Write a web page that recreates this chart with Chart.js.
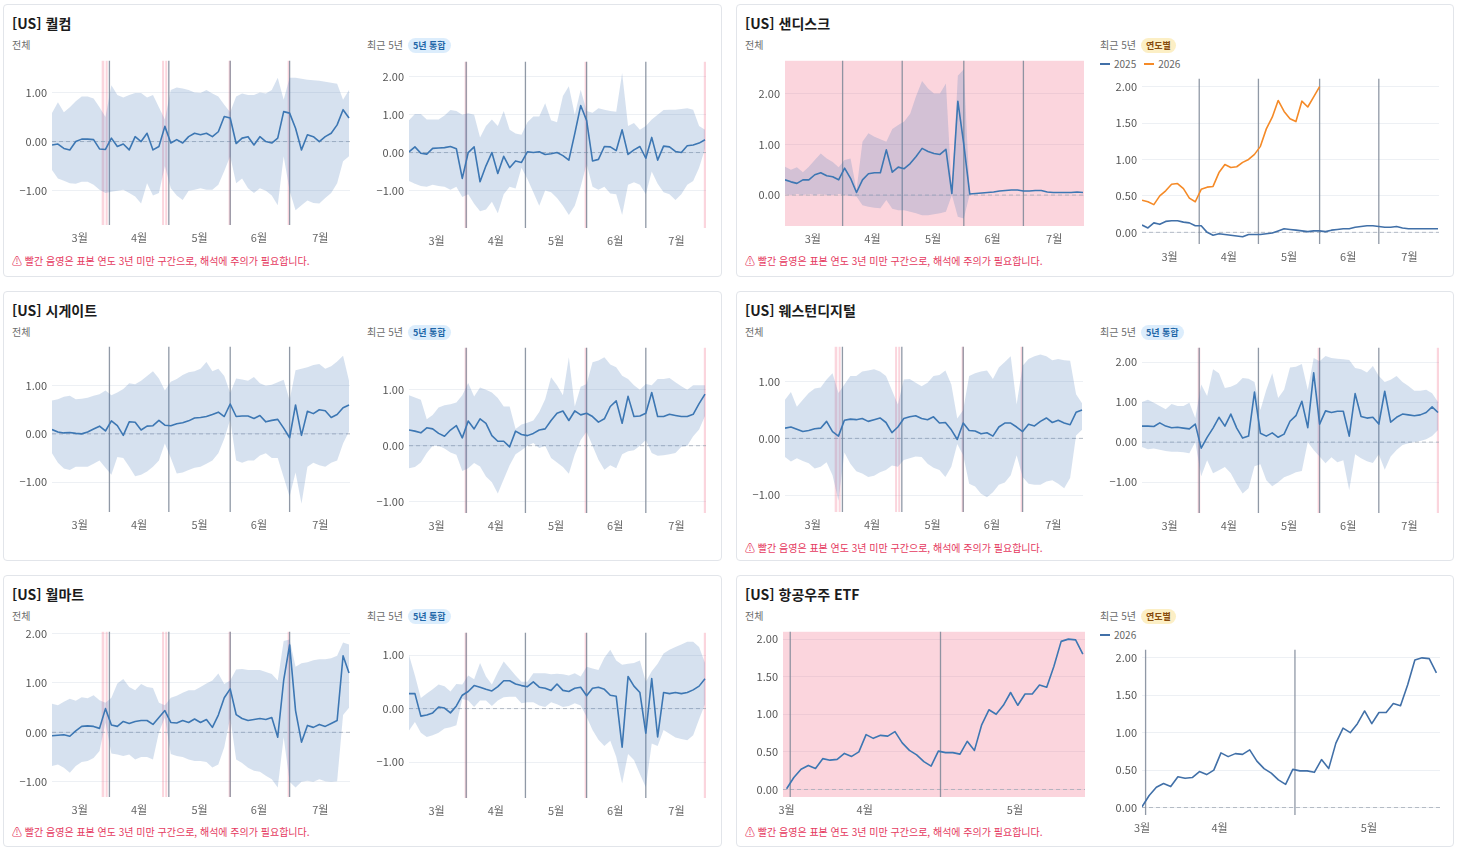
<!DOCTYPE html>
<html lang="ko">
<head>
<meta charset="utf-8">
<title>US 종목 시즌성</title>
<script src="https://cdn.jsdelivr.net/npm/chart.js@4.4.1/dist/chart.umd.min.js"></script>
<style>
  html, body { margin: 0; padding: 0; background: #fff; }
  body { width: 1461px; height: 850px; position: relative; overflow: hidden;
         font-family: 'Noto Sans CJK KR', 'Noto Sans', sans-serif; }
  .card { position: absolute; box-sizing: border-box; border: 1px solid #e2e5ea; border-radius: 4px; background: #fff; }
  .title { position: absolute; left: 8px; top: 9px; font-size: 14px; line-height: 18px; font-weight: 700; color: #1b1b1b; white-space: nowrap; }
  .sub { position: absolute; top: 33px; font-size: 10px; line-height: 14px; color: #6b6b6b; white-space: nowrap; }
  .badge { display: inline-block; margin-left: 5px; padding: 0 5px; font-size: 9px; line-height: 15px; border-radius: 8px; font-weight: 600; }
  .badge.merge { background: #dcedfc; color: #1f67a8; }
  .badge.year { background: #fcefc5; color: #874b0c; }
  .legend { position: absolute; top: 52px; font-size: 10px; line-height: 14px; color: #666; white-space: nowrap; }
  .legend i { display: inline-block; width: 10px; height: 2px; margin-right: 4px; vertical-align: middle; position: relative; top: -1px; }
  .legend span { margin-right: 8px; }
  .warn { position: absolute; left: 8px; top: 249px; font-size: 10px; line-height: 14px; color: #e53960; white-space: nowrap; }
  canvas { position: absolute; }
</style>
</head>
<body>
<script>
// ---- x axis (days from Mar 1) ----
const DAYS = [2,5,8,11,14,17,20,23,26,29,32,35,38,41,44,47,50,53,56,59,62,65,68,71,74,77,80,83,86,89,92,95,98,101,104,107,110,113,116,119,122,125,128,131,134,137,140,143,146,149,152];
const MONTH_RANGE = [2, 152.5];
const MONTH_TICKS = [16, 46, 76.5, 106.5, 137.5];
const MONTH_LABELS = ['3월', '4월', '5월', '6월', '7월'];
const MONTH_LINES = [31, 61, 92, 122];
const WARN_ALL = [[27.1, 28.4], [29.1, 30.1], [57.6, 58.6], [59.2, 60.2], [91.2, 92.4], [121, 121.9]];
const WARN_5Y = [[30.2, 31.5], [91, 92.2], [151.4, 152.5]];
const WARN_FULL = [[2, 152.5]];

// ETF: point index axis
const ETF_TICKS = [0, 10.8, 31.6];
const ETF_LABELS = ['3월', '4월', '5월'];
const ETF_LINES = [0.5, 21.3];

// ---- 퀄컴 ----
const qcomAll = [-0.07,-0.05,-0.14,-0.17,0.0,0.05,0.05,0.04,-0.15,-0.16,0.07,-0.1,-0.05,-0.17,0.1,0.0,0.17,-0.17,-0.1,0.31,-0.03,0.04,-0.03,0.1,0.17,0.14,0.17,0.1,0.2,0.51,0.48,-0.04,0.07,0.1,-0.07,0.1,0.0,-0.03,0.07,0.61,0.58,0.27,-0.17,0.14,0.1,0.0,0.1,0.17,0.34,0.65,0.48];
const qcomAllHi = [0.58,0.8,0.6,0.7,0.82,0.92,0.92,0.88,0.7,0.5,1.15,0.95,0.9,0.95,0.99,0.99,0.9,0.95,0.7,0.45,1.05,1.1,1.08,1.05,1.0,0.99,1.05,0.98,0.92,0.75,0.6,0.92,0.98,0.95,0.95,1.0,0.98,1.05,1.3,0.85,1.3,1.3,1.28,1.26,1.25,1.24,1.22,1.2,1.18,0.85,1.05];
const qcomAllLo = [-0.58,-0.75,-0.8,-0.85,-0.86,-0.82,-0.82,-0.88,-0.98,-1.05,-1.02,-1.0,-0.98,-1.05,-1.12,-1.26,-0.85,-1.1,-1.05,-0.5,-0.95,-1.1,-1.19,-1.0,-0.98,-0.95,-0.98,-0.98,-0.88,-0.6,-0.3,-0.85,-0.75,-0.95,-1.05,-0.95,-1.0,-1.1,-1.3,-0.3,-1.0,-1.4,-1.3,-1.2,-1.25,-1.26,-1.15,-1.05,-0.85,-0.4,-0.3];
const qcom5y = [0.02,0.15,-0.02,-0.04,0.11,0.12,0.13,0.16,0.1,-0.68,0.0,0.15,-0.77,-0.35,0.0,-0.55,-0.1,-0.4,-0.22,-0.26,0.02,0.0,0.02,-0.05,-0.03,0.0,-0.08,-0.2,0.5,1.24,0.85,-0.22,-0.18,0.16,0.15,0.05,0.6,-0.05,0.07,0.16,-0.15,0.4,-0.2,0.17,0.15,0.03,0.0,0.18,0.2,0.25,0.34];
const qcom5yHi = [0.85,1.02,1.02,0.87,0.87,0.87,0.98,1.12,1.1,1.0,1.04,1.0,0.4,0.7,0.87,0.7,1.1,0.6,0.5,0.47,0.8,0.95,0.95,1.3,0.85,0.8,1.49,1.75,1.0,1.66,1.1,1.05,1.17,1.13,1.1,1.08,2.1,0.7,0.78,0.6,0.7,0.87,1.0,1.12,1.13,1.13,1.15,1.17,1.13,0.7,0.6];
const qcom5yLo = [-0.75,-0.82,-0.88,-0.9,-0.85,-0.88,-0.9,-0.98,-0.9,-1.17,-1.1,-1.35,-1.55,-1.5,-1.3,-1.6,-1.1,-0.9,-0.95,-0.4,-0.7,-1.05,-1.4,-1.0,-1.05,-1.2,-1.4,-1.65,-1.4,-0.9,-0.3,-0.9,-0.98,-0.9,-1.08,-1.1,-1.65,-0.85,-0.78,-0.85,-1.1,-0.5,-0.82,-1.05,-1.1,-1.25,-1.1,-0.85,-0.75,-0.4,0.1];

// ---- 샌디스크 ----
const sndkAll = [0.3,0.26,0.23,0.3,0.3,0.4,0.44,0.38,0.36,0.3,0.53,0.33,0.05,0.3,0.42,0.44,0.44,0.89,0.45,0.55,0.52,0.62,0.76,0.92,0.86,0.82,0.8,0.9,0.03,1.85,1.0,0.02,0.03,0.04,0.05,0.06,0.08,0.09,0.1,0.1,0.08,0.08,0.09,0.09,0.06,0.05,0.05,0.05,0.05,0.06,0.05];
const sndkAllHi = [0.56,0.5,0.55,0.45,0.56,0.69,0.82,0.72,0.65,0.55,0.69,0.72,0.1,1.05,1.22,1.15,1.1,1.05,1.3,1.38,1.45,1.6,1.95,2.25,2.1,2.0,2.0,2.2,0.05,2.35,2.48,0.02];
const sndkAllLo = [0.02,0.0,0.02,0.0,0.02,0.0,0.02,0.0,0.0,0.02,0.0,-0.02,-0.03,-0.2,-0.23,-0.25,-0.26,-0.1,-0.27,-0.3,-0.3,-0.33,-0.36,-0.4,-0.4,-0.38,-0.36,-0.33,0.0,-0.43,-0.46,0.02];
const sndk2025 = [0.1,0.06,0.13,0.11,0.15,0.16,0.16,0.14,0.13,0.09,0.09,0.0,-0.04,-0.02,-0.03,-0.04,-0.05,-0.06,-0.03,-0.03,-0.03,-0.02,-0.01,0.02,0.05,0.04,0.03,0.02,0.01,0.02,0.02,0.01,0.03,0.04,0.05,0.05,0.07,0.08,0.09,0.09,0.08,0.07,0.07,0.08,0.06,0.05,0.05,0.05,0.05,0.05,0.05];
const sndk2026 = [0.44,0.42,0.38,0.5,0.57,0.66,0.67,0.6,0.47,0.42,0.59,0.62,0.63,0.82,0.93,0.89,0.9,0.96,1.0,1.07,1.18,1.42,1.58,1.81,1.66,1.56,1.52,1.8,1.72,1.86,2.0];

// ---- 시게이트 ----
const stxAll = [0.09,0.04,0.02,0.03,0.01,0.0,0.04,0.1,0.16,0.06,0.27,0.17,-0.03,0.25,0.24,0.08,0.16,0.17,0.28,0.18,0.17,0.21,0.23,0.27,0.33,0.34,0.36,0.4,0.45,0.36,0.62,0.36,0.37,0.37,0.32,0.38,0.25,0.28,0.3,0.12,-0.08,0.6,-0.03,0.47,0.42,0.5,0.48,0.34,0.4,0.54,0.6];
const stxAllHi = [0.69,0.72,0.77,0.79,0.72,0.73,0.75,0.79,0.82,0.9,0.8,0.86,0.93,1.05,1.03,1.1,1.2,1.3,1.15,0.9,1.08,1.14,1.22,1.28,1.3,1.35,1.49,1.3,1.35,1.2,0.85,1.15,1.13,1.1,1.18,1.05,1.0,1.02,1.07,1.12,0.7,1.32,1.35,1.38,1.43,1.45,1.35,1.4,1.5,1.62,1.1];
const stxAllLo = [-0.4,-0.6,-0.72,-0.75,-0.68,-0.68,-0.68,-0.62,-0.55,-0.7,-0.85,-0.48,-0.5,-0.68,-0.88,-0.85,-0.78,-0.68,-0.55,-0.2,-0.5,-0.82,-0.8,-0.75,-0.7,-0.68,-0.62,-0.55,-0.4,-0.1,0.3,-0.55,-0.6,-0.55,-0.55,-0.45,-0.4,-0.5,-0.5,-0.9,-1.3,-0.8,-1.45,-0.68,-0.6,-0.65,-0.68,-0.6,-0.55,-0.2,0.05];
const stx5y = [0.28,0.26,0.23,0.32,0.3,0.22,0.17,0.28,0.36,0.14,0.44,0.3,0.48,0.4,0.18,0.08,0.08,-0.02,0.26,0.2,0.18,0.22,0.28,0.3,0.45,0.58,0.62,0.45,0.62,0.55,0.58,0.52,0.42,0.48,0.7,0.8,0.4,0.88,0.52,0.53,0.58,0.95,0.52,0.52,0.56,0.54,0.52,0.52,0.56,0.75,0.92];
const stx5yHi = [0.9,0.86,0.82,0.47,0.55,0.68,0.72,0.74,0.77,0.9,1.12,0.88,1.04,1.0,0.95,0.85,0.7,0.7,0.3,0.38,0.41,0.45,0.6,0.83,1.22,1.08,0.9,1.58,0.7,1.05,1.1,1.49,1.52,1.58,1.45,1.4,1.25,1.19,1.08,1.0,1.1,1.08,1.19,1.19,1.21,1.13,1.06,1.0,1.08,1.08,1.08];
const stx5yLo = [-0.4,-0.38,-0.3,-0.13,0.0,0.0,-0.05,-0.12,-0.16,-0.45,-0.4,-0.31,-0.37,-0.55,-0.65,-0.85,-0.6,-0.35,-0.15,-0.08,0.0,0.05,-0.04,0.0,-0.22,-0.3,-0.38,-0.5,-0.15,0.1,0.25,0.0,-0.25,-0.43,-0.35,-0.4,-0.15,-0.1,-0.08,0.0,0.1,-0.13,-0.18,-0.17,-0.15,-0.13,-0.02,0.0,0.17,0.29,0.53];

// ---- 웨스턴디지털 ----
const wdcAll = [0.18,0.2,0.16,0.12,0.14,0.17,0.18,0.3,0.12,0.04,0.32,0.34,0.33,0.35,0.3,0.33,0.36,0.28,0.1,0.2,0.35,0.38,0.4,0.35,0.33,0.38,0.27,0.28,0.15,-0.02,0.27,0.14,0.13,0.08,0.1,0.04,0.2,0.27,0.27,0.2,0.12,0.25,0.22,0.3,0.36,0.28,0.32,0.27,0.24,0.46,0.5];
const wdcAllHi = [0.68,0.82,0.56,0.68,0.8,0.88,0.9,1.04,1.15,0.8,0.95,1.1,1.1,1.18,1.2,1.22,1.18,1.1,0.85,0.6,1.04,1.05,0.98,0.92,0.98,1.1,1.12,1.2,0.95,0.35,0.5,1.1,1.15,1.18,1.2,1.05,1.25,1.35,1.45,0.6,1.28,1.4,1.45,1.48,1.45,1.38,1.4,1.38,1.37,0.78,0.62];
const wdcAllLo = [-0.33,-0.41,-0.35,-0.4,-0.44,-0.53,-0.5,-0.42,-0.65,-1.1,-0.25,-0.45,-0.58,-0.62,-0.68,-0.66,-0.6,-0.56,-0.48,-0.5,-0.38,-0.35,-0.32,-0.33,-0.45,-0.52,-0.56,-0.68,-0.5,-0.1,-0.3,-0.8,-0.85,-0.98,-1.04,-0.95,-0.82,-0.78,-0.65,-0.3,-0.68,-0.8,-0.82,-0.82,-0.76,-0.74,-0.8,-0.88,-0.7,0.05,0.15];
const wdc5y = [0.4,0.4,0.39,0.48,0.4,0.36,0.37,0.35,0.33,0.45,-0.15,0.12,0.35,0.62,0.4,0.7,0.35,0.1,0.15,1.25,0.22,0.15,0.23,0.12,0.2,0.52,0.66,1.02,0.36,1.73,0.45,0.78,0.74,0.77,0.77,0.15,1.21,0.64,0.6,0.62,0.45,1.27,0.5,0.62,0.7,0.68,0.66,0.68,0.74,0.88,0.74];
const wdc5yHi = [1.0,1.06,0.98,0.9,0.82,0.95,0.9,0.9,0.98,0.6,1.44,1.15,1.82,1.72,1.35,1.38,1.45,1.6,1.58,1.5,0.8,1.31,1.72,1.1,1.31,1.86,1.88,1.95,1.3,2.1,2.02,2.15,2.1,2.08,2.07,2.05,1.85,1.82,1.74,1.9,1.65,1.5,1.56,1.65,1.5,1.4,1.28,1.28,1.31,1.22,1.0];
const wdc5yLo = [-0.12,-0.18,-0.16,-0.19,-0.22,-0.24,-0.24,-0.25,-0.28,0.0,-0.85,-0.45,-0.78,-0.7,-0.62,-0.78,-1.05,-1.28,-1.15,-0.6,-0.55,-0.95,-1.1,-1.0,-0.88,-0.82,-0.75,-0.72,0.0,-0.2,-0.36,-0.53,-0.38,-0.5,-0.45,-1.2,-0.3,-0.4,-0.48,-0.52,-0.3,-0.69,-0.36,-0.2,-0.07,-0.03,0.0,0.03,0.07,0.15,0.3];

// ---- 월마트 ----
const wmtAll = [-0.07,-0.06,-0.05,-0.08,0.03,0.12,0.13,0.12,0.08,0.48,0.15,0.12,0.22,0.18,0.22,0.24,0.24,0.16,0.3,0.44,0.2,0.19,0.24,0.2,0.27,0.2,0.26,0.1,0.35,0.7,0.88,0.36,0.28,0.24,0.26,0.28,0.26,0.3,-0.1,1.05,1.77,0.44,-0.2,0.14,0.1,0.16,0.12,0.18,0.24,1.55,1.2];
const wmtAllHi = [0.58,0.55,0.62,0.68,0.64,0.71,0.69,0.75,0.65,0.6,0.7,0.99,1.08,0.92,0.85,0.98,0.92,0.9,0.6,0.55,0.7,0.74,0.8,0.85,0.85,0.92,0.99,1.05,1.19,0.98,1.05,1.27,1.28,1.26,1.26,1.26,1.22,1.18,1.05,1.85,1.88,1.33,1.4,1.42,1.46,1.48,1.48,1.5,1.55,1.82,1.78];
const wmtAllLo = [-0.68,-0.65,-0.72,-0.82,-0.68,-0.6,-0.58,-0.52,-0.38,0.2,-0.43,-0.45,-0.48,-0.45,-0.55,-0.5,-0.5,-0.55,0.0,0.3,-0.44,-0.48,-0.5,-0.55,-0.58,-0.58,-0.6,-0.71,-0.65,-0.3,0.3,-0.55,-0.62,-0.72,-0.78,-0.8,-0.88,-0.95,-1.12,-0.1,-1.0,-1.12,-1.0,-0.98,-1.0,-0.95,-0.99,-1.0,-0.99,0.35,0.5];
const wmt5y = [0.28,0.28,-0.14,-0.12,-0.08,0.03,0.01,-0.08,0.05,0.25,0.32,0.43,0.4,0.36,0.33,0.41,0.52,0.52,0.46,0.43,0.41,0.5,0.4,0.38,0.34,0.46,0.34,0.32,0.38,0.4,0.24,0.38,0.4,0.36,0.25,0.23,-0.72,0.6,0.42,0.3,-0.46,0.56,-0.53,0.3,0.28,0.3,0.28,0.3,0.35,0.42,0.56];
const wmt5yHi = [1.0,0.62,0.2,0.28,0.36,0.45,0.42,0.32,0.46,0.45,0.62,0.55,0.85,0.6,0.45,0.68,0.88,0.75,0.62,0.5,0.5,0.66,0.66,0.66,0.64,0.65,0.64,0.62,0.66,0.6,0.78,0.75,0.72,0.95,1.1,0.9,0.82,0.84,0.85,0.9,0.5,0.7,0.84,1.03,1.1,1.15,1.2,1.25,1.25,1.15,0.85];
const wmt5yLo = [-0.41,-0.25,-0.45,-0.53,-0.5,-0.45,-0.37,-0.35,-0.31,0.18,0.15,0.03,0.15,0.15,0.05,0.15,0.21,0.22,0.22,0.1,0.12,0.12,0.06,0.03,0.12,0.08,0.03,0.05,0.1,0.06,-0.15,-0.4,-0.58,-0.7,-0.6,-0.9,-1.4,-0.85,-0.96,-1.22,-1.47,-0.65,-0.7,-0.4,-0.47,-0.54,-0.57,-0.59,-0.5,-0.2,0.08];

// ---- 항공우주 ETF (2026 only) ----
const etf2026 = [0.01,0.16,0.27,0.32,0.28,0.41,0.39,0.40,0.48,0.44,0.5,0.73,0.68,0.72,0.71,0.77,0.62,0.52,0.46,0.37,0.31,0.51,0.49,0.49,0.47,0.64,0.52,0.86,1.06,1.0,1.12,1.29,1.12,1.27,1.27,1.39,1.36,1.64,1.97,2.0,1.99,1.8];

// ---- style ----
const BLUE = '#3d77b3';
const BLUE_Y = '#4170a8';
const ORANGE = '#f58a27';
const BAND = 'rgba(70,120,180,0.22)';
const PINK = 'rgba(240,100,130,0.27)';
const VLINE = 'rgba(125,135,150,0.85)';
const ZERO = 'rgba(160,168,180,0.75)';
const GRID = '#edf0f4';
// PAD_T: space Chart.js keeps above the plot (half a tick label + tick padding)
const AX_W = 48, AX_H = 26, PAD_T = 12, PAD_R = 6;
const WARN_TEXT = '⚠ 빨간 음영은 표본 연도 3년 미만 구간으로, 해석에 주의가 필요합니다.';

Chart.defaults.font.family = "'Noto Sans CJK KR', 'Noto Sans', sans-serif";
Chart.defaults.font.size = 11;

// ---- cards ----
const COL_X = [3, 736], COL_W = [719, 718];
const ROWS = [{ top: 4, h: 273 }, { top: 291, h: 270 }, { top: 575, h: 272 }];
const cards = [
  { col: 0, row: 0, title: '[US] 퀄컴', warn: true, badge: 'merge' },
  { col: 1, row: 0, title: '[US] 샌디스크', warn: true, badge: 'year', legend: [['2025', BLUE_Y], ['2026', ORANGE]] },
  { col: 0, row: 1, title: '[US] 시게이트', warn: false, badge: 'merge' },
  { col: 1, row: 1, title: '[US] 웨스턴디지털', warn: true, badge: 'merge' },
  { col: 0, row: 2, title: '[US] 월마트', warn: true, badge: 'merge' },
  { col: 1, row: 2, title: '[US] 항공우주 ETF', warn: true, badge: 'year', legend: [['2026', BLUE_Y]] },
];

cards.forEach(c => {
  const el = document.createElement('div');
  el.className = 'card';
  el.style.left = COL_X[c.col] + 'px';
  el.style.width = COL_W[c.col] + 'px';
  el.style.top = ROWS[c.row].top + 'px';
  el.style.height = ROWS[c.row].h + 'px';
  let html = `<div class="title">${c.title}</div>` +
    `<div class="sub" style="left:8px">전체</div>` +
    `<div class="sub" style="left:363px">최근 5년<span class="badge ${c.badge}">${c.badge === 'merge' ? '5년 통합' : '연도별'}</span></div>`;
  if (c.legend) {
    html += `<div class="legend" style="left:363px">` +
      c.legend.map(([t, col]) => `<span><i style="background:${col}"></i>${t}</span>`).join('') + `</div>`;
  }
  if (c.warn) html += `<div class="warn">${WARN_TEXT}</div>`;
  el.innerHTML = html;
  document.body.appendChild(el);
});

// ---- plugin: pink warning bands, zero line, month lines ----
const decor = {
  id: 'decor',
  beforeDatasetsDraw(chart, args, o) {
    const { ctx, chartArea: a, scales: { x, y } } = chart;
    ctx.save();
    ctx.beginPath();
    ctx.rect(a.left, a.top, a.right - a.left, a.bottom - a.top);
    ctx.clip();
    ctx.fillStyle = PINK;
    (o.bands || []).forEach(([s, e]) => {
      const p0 = Math.max(a.left, x.getPixelForValue(s));
      const p1 = Math.min(a.right, x.getPixelForValue(e));
      ctx.fillRect(p0, a.top, p1 - p0, a.bottom - a.top);
    });
    const zy = y.getPixelForValue(0);
    ctx.strokeStyle = ZERO;
    ctx.lineWidth = 1;
    ctx.setLineDash([4, 3]);
    ctx.beginPath(); ctx.moveTo(a.left, zy); ctx.lineTo(a.right, zy); ctx.stroke();
    ctx.setLineDash([]);
    ctx.strokeStyle = VLINE;
    ctx.lineWidth = 1.3;
    (o.lines || []).forEach(v => {
      const px = x.getPixelForValue(v);
      ctx.beginPath(); ctx.moveTo(px, a.top); ctx.lineTo(px, a.bottom); ctx.stroke();
    });
    ctx.restore();
  }
};

function pts(xs, vals) { return vals.map((v, i) => ({ x: xs ? xs[i] : i, y: v })); }
function fmt(v) { return (v < 0 ? '−' : '') + Math.abs(v).toFixed(2); }

function lineDs(xs, vals, color) {
  return { data: pts(xs, vals), borderColor: color, borderWidth: 1.6, borderJoinStyle: 'round', pointRadius: 0, fill: false, tension: 0 };
}
function bandDs(xs, hi, lo) {
  return [
    { data: pts(xs, hi), borderColor: 'rgba(0,0,0,0)', borderWidth: 0, pointRadius: 0, fill: '+1', backgroundColor: BAND },
    { data: pts(xs, lo), borderColor: 'rgba(0,0,0,0)', borderWidth: 0, pointRadius: 0, fill: false }
  ];
}

const month = { range: MONTH_RANGE, ticks: MONTH_TICKS, labels: MONTH_LABELS, lines: MONTH_LINES };
const charts = [
  { rect: [52, 350, 61, 225], y: [-1.7, 1.65], yt: [-1, 0, 1], ax: month, bands: WARN_ALL,
    ds: [lineDs(DAYS, qcomAll, BLUE), ...bandDs(DAYS, qcomAllHi, qcomAllLo)] },
  { rect: [409, 706, 62, 228], y: [-1.99, 2.4], yt: [-1, 0, 1, 2], ax: month, bands: WARN_5Y,
    ds: [lineDs(DAYS, qcom5y, BLUE), ...bandDs(DAYS, qcom5yHi, qcom5yLo)] },
  { rect: [785, 1084, 61, 226], y: [-0.61, 2.65], yt: [0, 1, 2], ax: month, bands: WARN_FULL,
    ds: [lineDs(DAYS, sndkAll, BLUE), ...bandDs(DAYS, sndkAllHi, sndkAllLo)] },
  { rect: [1142, 1439, 79, 244], y: [-0.16, 2.11], yt: [0, 0.5, 1, 1.5, 2], ax: month, bands: [],
    ds: [lineDs(DAYS, sndk2025, BLUE_Y), lineDs(DAYS, sndk2026, ORANGE)] },
  { rect: [52, 350, 347, 512], y: [-1.62, 1.81], yt: [-1, 0, 1], ax: month, bands: [],
    ds: [lineDs(DAYS, stxAll, BLUE), ...bandDs(DAYS, stxAllHi, stxAllLo)] },
  { rect: [409, 706, 348, 513], y: [-1.2, 1.75], yt: [-1, 0, 1], ax: month, bands: WARN_5Y,
    ds: [lineDs(DAYS, stx5y, BLUE), ...bandDs(DAYS, stx5yHi, stx5yLo)] },
  { rect: [785, 1083, 347, 512], y: [-1.3, 1.62], yt: [-1, 0, 1], ax: month, bands: WARN_ALL,
    ds: [lineDs(DAYS, wdcAll, BLUE), ...bandDs(DAYS, wdcAllHi, wdcAllLo)] },
  { rect: [1142, 1439, 348, 513], y: [-1.77, 2.36], yt: [-1, 0, 1, 2], ax: month, bands: WARN_5Y,
    ds: [lineDs(DAYS, wdc5y, BLUE), ...bandDs(DAYS, wdc5yHi, wdc5yLo)] },
  { rect: [52, 350, 632, 797], y: [-1.31, 2.04], yt: [-1, 0, 1, 2], ax: month, bands: WARN_ALL,
    ds: [lineDs(DAYS, wmtAll, BLUE), ...bandDs(DAYS, wmtAllHi, wmtAllLo)] },
  { rect: [409, 706, 633, 798], y: [-1.67, 1.42], yt: [-1, 0, 1], ax: month, bands: WARN_5Y,
    ds: [lineDs(DAYS, wmt5y, BLUE), ...bandDs(DAYS, wmt5yHi, wmt5yLo)] },
  { rect: [783, 1085, 632, 797], y: [-0.1, 2.1], yt: [0, 0.5, 1, 1.5, 2],
    ax: { range: [-0.5, 41.3], ticks: ETF_TICKS, labels: ETF_LABELS, lines: ETF_LINES }, bands: [[-0.5, 41.3]],
    ds: [lineDs(null, etf2026, BLUE)] },
  { rect: [1142, 1440, 650, 815], y: [-0.1, 2.11], yt: [0, 0.5, 1, 1.5, 2],
    ax: { range: [0, 41.5], ticks: ETF_TICKS, labels: ETF_LABELS, lines: ETF_LINES }, bands: [],
    ds: [lineDs(null, etf2026, BLUE_Y)] },
];

charts.forEach(spec => {
  const [x0, x1, y0, y1] = spec.rect;
  const w = x1 - x0 + AX_W + PAD_R, h = y1 - y0 + PAD_T + AX_H;
  const cv = document.createElement('canvas');
  cv.width = w; cv.height = h;
  cv.style.left = (x0 - AX_W) + 'px';
  cv.style.top = (y0 - PAD_T) + 'px';
  cv.style.width = w + 'px';
  cv.style.height = h + 'px';
  document.body.appendChild(cv);

  new Chart(cv, {
    type: 'line',
    data: { datasets: spec.ds },
    options: {
      responsive: false,
      animation: false,
      events: [],
      layout: { padding: { top: 0, right: PAD_R, left: 0, bottom: 0 } },
      plugins: {
        legend: { display: false },
        tooltip: { enabled: false },
        decor: { bands: spec.bands, lines: spec.ax.lines }
      },
      scales: {
        x: {
          type: 'linear',
          min: spec.ax.range[0],
          max: spec.ax.range[1],
          afterBuildTicks: axis => { axis.ticks = spec.ax.ticks.map(v => ({ value: v })); },
          afterFit: axis => { axis.height = AX_H; },
          ticks: { autoSkip: false, maxRotation: 0, padding: 6, color: '#666',
                   callback: (v, i) => spec.ax.labels[i] },
          grid: { display: false, drawTicks: false },
          border: { display: false }
        },
        y: {
          min: spec.y[0],
          max: spec.y[1],
          afterBuildTicks: axis => { axis.ticks = spec.yt.map(v => ({ value: v })); },
          afterFit: axis => { axis.width = AX_W; },
          ticks: { padding: 5, color: '#555', callback: v => fmt(v) },
          grid: { color: GRID, drawTicks: false },
          border: { display: false }
        }
      }
    },
    plugins: [decor]
  });
});
</script>
</body>
</html>
